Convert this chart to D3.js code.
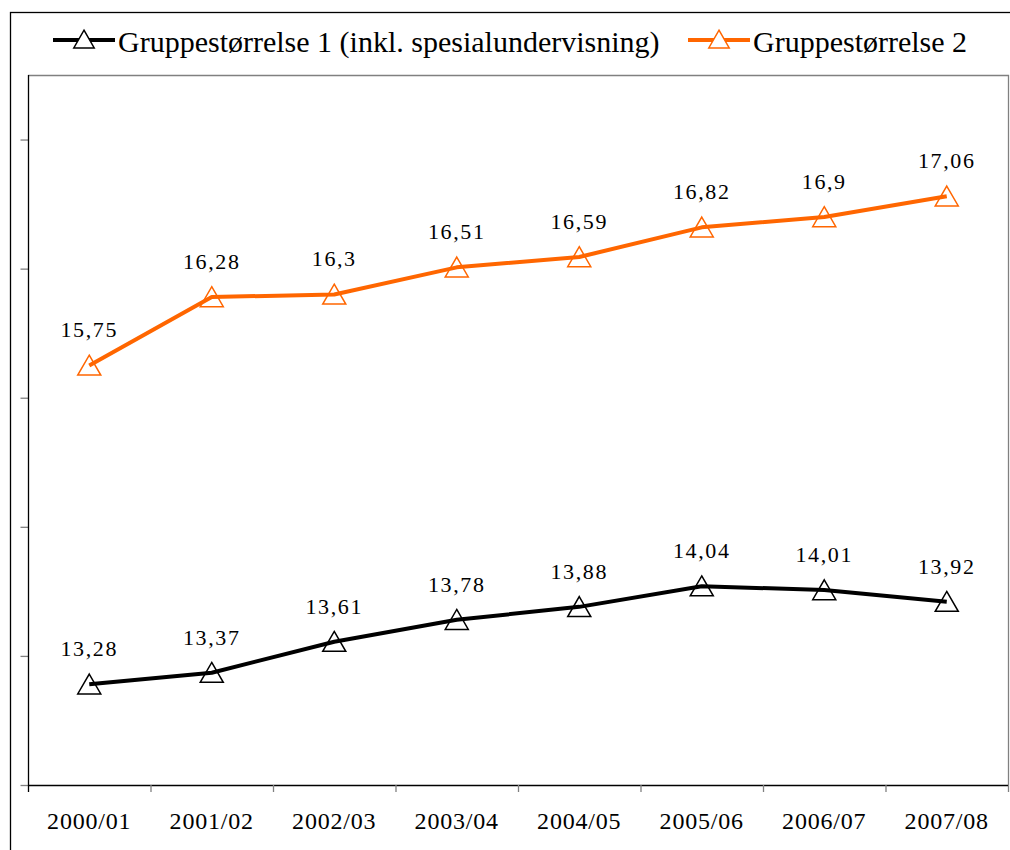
<!DOCTYPE html>
<html>
<head>
<meta charset="utf-8">
<script src="https://cdn.jsdelivr.net/npm/d3@7"></script>
<style>
  body { margin: 0; background: #fff; }
  text { font-family: "Liberation Serif", "Times New Roman", serif; }
</style>
</head>
<body>
<div id="chart"></div>
<script>
var categories = ["2000/01", "2001/02", "2002/03", "2003/04", "2004/05", "2005/06", "2006/07", "2007/08"]
var group1 = [13.28, 13.37, 13.61, 13.78, 13.88, 14.04, 14.01, 13.92]
var group2 = [15.75, 16.28, 16.3, 16.51, 16.59, 16.82, 16.9, 17.06]
var seriesNames = ["Gruppestørrelse 1 (inkl. spesialundervisning)", "Gruppestørrelse 2"]
var yTicks = [12.5, 13.5, 14.5, 15.5, 16.5, 17.5]

var width = 1010, height = 850
var plot = {left: 28, right: 1008, top: 75, bottom: 785}
var colors = ["#000000", "#ff6600"]

var svg = d3.select("#chart")
  .append("svg")
    .attr("width", width)
    .attr("height", height)

// outer frame
svg.append("rect")
  .attr("x", 10.5).attr("y", 12.5)
  .attr("width", 1010).attr("height", 850)
  .attr("fill", "none").attr("stroke", "#000").attr("stroke-width", 1.3)

var x = d3.scaleBand()
  .domain(categories)
  .range([plot.left, plot.right])

var y = d3.scaleLinear()
  .domain([12.5, 18])
  .range([plot.bottom, plot.top])

// plot frame top + right (grey)
svg.append("path")
  .attr("d", "M" + plot.left + "," + (plot.top + 0.5) + "H" + (plot.right + 0.5) + "V" + (plot.bottom + 7))
  .attr("fill", "none").attr("stroke", "#808080").attr("stroke-width", 1.3)

// y axis, ticks without labels
var yAxis = svg.append("g")
  .attr("transform", "translate(" + (plot.left + 0.5) + ",0)")
  .call(d3.axisLeft(y).tickValues(yTicks).tickFormat("").tickSize(8).tickSizeOuter(0))
yAxis.select(".domain").remove()
yAxis.selectAll(".tick line").attr("stroke", "#808080").attr("stroke-width", 1.3)
svg.append("line")
  .attr("x1", plot.left + 0.5).attr("x2", plot.left + 0.5)
  .attr("y1", plot.top).attr("y2", plot.bottom + 7)
  .attr("stroke", "#000").attr("stroke-width", 1.3)

// x axis
var xAxis = svg.append("g")
  .attr("transform", "translate(0," + plot.bottom + ")")
  .call(d3.axisBottom(x).tickSize(0).tickPadding(44))
xAxis.attr("font-family", null)
xAxis.select(".domain").remove()
xAxis.selectAll(".tick text")
  .attr("font-size", "24px")
  .attr("letter-spacing", "0.8px")
  .attr("fill", "#000")
  .attr("dy", 0)
svg.append("line")
  .attr("x1", plot.left).attr("x2", plot.right)
  .attr("y1", plot.bottom + 0.5).attr("y2", plot.bottom + 0.5)
  .attr("stroke", "#000").attr("stroke-width", 1.5)
svg.selectAll(".xtick")
  .data(categories.slice(1))
  .enter().append("line")
    .attr("x1", function(d) { return x(d) + 0.5 })
    .attr("x2", function(d) { return x(d) + 0.5 })
    .attr("y1", plot.bottom)
    .attr("y2", plot.bottom + 7)
    .attr("stroke", "#808080").attr("stroke-width", 1.3)

var triangle = d3.symbol().type(d3.symbolTriangle).size(230)
var legendTriangle = d3.symbol().type(d3.symbolTriangle).size(180)

var line = d3.line()
  .x(function(d, i) { return x(categories[i]) + x.bandwidth() / 2 })
  .y(function(d) { return y(d) })

var series = [group1, group2]
series.forEach(function(values, s) {
  var g = svg.append("g")
  g.append("path")
    .datum(values)
    .attr("d", line)
    .attr("fill", "none")
    .attr("stroke", colors[s])
    .attr("stroke-width", 4)
    .attr("stroke-linejoin", "round")
  g.selectAll(".marker")
    .data(values)
    .enter().append("path")
      .attr("d", triangle)
      .attr("transform", function(d, i) {
        return "translate(" + (x(categories[i]) + x.bandwidth() / 2) + "," + (y(d) + 3) + ")"
      })
      .attr("fill", "none")
      .attr("stroke", colors[s])
      .attr("stroke-width", 1.5)
  g.selectAll(".label")
    .data(values)
    .enter().append("text")
      .attr("x", function(d, i) { return x(categories[i]) + x.bandwidth() / 2 })
      .attr("y", function(d) { return y(d) - 28 })
      .attr("text-anchor", "middle")
      .attr("font-size", "22px")
      .attr("letter-spacing", "1.6px")
      .text(function(d) { return String(d).replace(".", ",") })
})

// legend
var legendX = [53, 688]
seriesNames.forEach(function(name, s) {
  var lg = svg.append("g").attr("transform", "translate(" + legendX[s] + ",40)")
  lg.append("line")
    .attr("x1", 0).attr("x2", 62)
    .attr("stroke", colors[s]).attr("stroke-width", 4)
  lg.append("path")
    .attr("d", legendTriangle)
    .attr("transform", "translate(31,2)")
    .attr("fill", "#fff")
    .attr("stroke", colors[s])
    .attr("stroke-width", 1.5)
  lg.append("text")
    .attr("x", 65)
    .attr("y", 12)
    .attr("font-size", "30px")
    .text(name)
})
</script>
</body>
</html>
